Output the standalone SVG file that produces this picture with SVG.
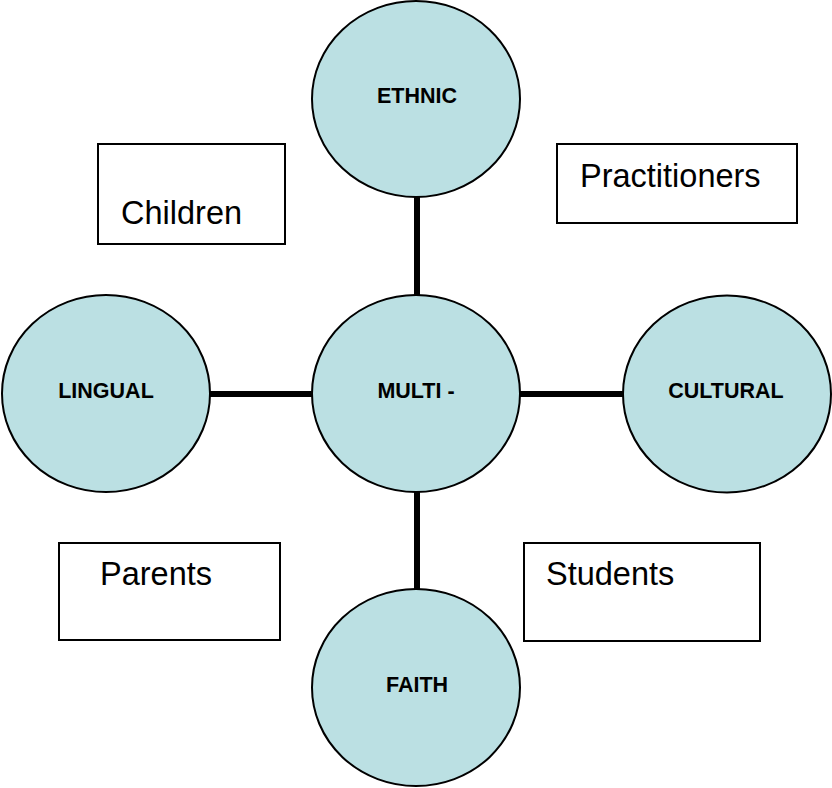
<svg xmlns="http://www.w3.org/2000/svg" width="832" height="788" viewBox="0 0 832 788">
<style>
.c{fill:#BBE0E3;stroke:#000;stroke-width:2}
.r{fill:#fff;stroke:#000;stroke-width:2}
.l{font-family:"Liberation Sans",Arial,sans-serif;font-weight:bold;font-size:21.5px;text-anchor:middle;fill:#000}
.t{font-family:"Liberation Sans",Arial,sans-serif;font-size:32.5px;fill:#000}
.k{stroke:#000;stroke-width:6;fill:none}
</style>
<rect width="832" height="788" fill="#fff"/>
<g id="connectors">
<line class="k" x1="417" y1="196" x2="417" y2="296"/>
<line class="k" x1="417" y1="491" x2="417" y2="590"/>
<line class="k" x1="209" y1="394" x2="314" y2="394"/>
<line class="k" x1="518" y1="394" x2="624" y2="394"/>
</g>
<g id="ethnic"><ellipse class="c" cx="416" cy="99" rx="104" ry="98"/><text class="l" x="417" y="103">ETHNIC</text></g>
<g id="multi"><ellipse class="c" cx="416" cy="393.5" rx="104" ry="98.5"/><text class="l" x="416" y="398">MULTI -</text></g>
<g id="lingual"><ellipse class="c" cx="106" cy="393.5" rx="104" ry="98.5"/><text class="l" x="106" y="398">LINGUAL</text></g>
<g id="cultural"><ellipse class="c" cx="727" cy="394" rx="104" ry="98.5"/><text class="l" x="726" y="398">CULTURAL</text></g>
<g id="faith"><ellipse class="c" cx="416" cy="687.5" rx="104" ry="98.5"/><text class="l" x="417" y="692">FAITH</text></g>
<g id="children"><rect class="r" x="98" y="144" width="187" height="100"/><text class="t" x="121" y="224">Children</text></g>
<g id="practitioners"><rect class="r" x="557" y="144" width="240" height="79"/><text class="t" x="580" y="187">Practitioners</text></g>
<g id="parents"><rect class="r" x="59" y="543" width="221" height="97"/><text class="t" x="100" y="585">Parents</text></g>
<g id="students"><rect class="r" x="524" y="543" width="236" height="98"/><text class="t" x="546" y="585">Students</text></g>
</svg>
